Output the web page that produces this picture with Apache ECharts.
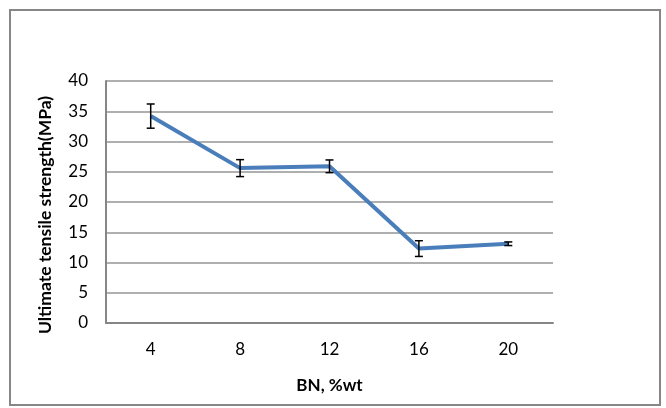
<!DOCTYPE html>
<html><head><meta charset="utf-8">
<script src="https://cdn.jsdelivr.net/npm/echarts@6/dist/echarts.min.js"></script>
<style>html,body{margin:0;padding:0;background:#fff}#c{width:666px;height:408px}</style>
</head><body><div id="c"></div>
<script>
const categories = ['4', '8', '12', '16', '20'];
const strength = [34.2, 25.6, 25.9, 12.3, 13.1];
const errors = [2.0, 1.4, 1.05, 1.3, 0.3];
const yTicks = [0, 5, 10, 15, 20, 25, 30, 35, 40];

const chart = echarts.init(document.getElementById('c'));
const font = 'Lato, "Open Sans", sans-serif';
chart.setOption({
  animation: false,
  backgroundColor: '#fff',
  grid: { left: 106, right: 113, top: 81, bottom: 85, containLabel: false },
  xAxis: {
    type: 'category', data: categories, boundaryGap: true,
    axisLine: { lineStyle: { color: '#868686', width: 2 } },
    axisTick: { show: false },
    axisLabel: { color: '#000', fontSize: 17, fontFamily: font, margin: 18 },
    name: 'BN, %wt', nameLocation: 'middle', nameGap: 54,
    nameTextStyle: { color: '#000', fontSize: 17, fontWeight: 'bold', fontFamily: font }
  },
  yAxis: {
    type: 'value', min: yTicks[0], max: yTicks[yTicks.length - 1], interval: 5,
    axisLine: { show: true, lineStyle: { color: '#868686', width: 2 } },
    axisTick: { show: false },
    splitLine: { lineStyle: { color: '#959595', width: 1.5 } },
    axisLabel: { color: '#000', fontSize: 17, fontFamily: font, margin: 18 }
  },
  graphic: [
    { type: 'rect', shape: { x: 10, y: 10, width: 650, height: 395 }, style: { fill: 'none', stroke: '#878787', lineWidth: 2 }, silent: true, z: -10 },
    { type: 'text', x: 45, y: 215, rotation: Math.PI / 2,
      style: { text: 'Ultimate tensile strength(MPa)', fill: '#000', font: 'bold 17.5px ' + font, textAlign: 'center', textVerticalAlign: 'middle' } }
  ],
  series: [
    {
      type: 'line', data: strength, symbol: 'none',
      lineStyle: { color: '#4a7ebb', width: 4 }, z: 2
    },
    {
      type: 'custom', z: 3,
      data: strength.map((v, i) => [i, v - errors[i], v + errors[i]]),
      renderItem: function (params, api) {
        const lo = api.coord([api.value(0), api.value(1)]);
        const hi = api.coord([api.value(0), api.value(2)]);
        const x = lo[0], w = 4;
        const st = { stroke: '#000', lineWidth: 1.5 };
        return { type: 'group', children: [
          { type: 'line', shape: { x1: x, y1: lo[1], x2: x, y2: hi[1] }, style: st },
          { type: 'line', shape: { x1: x - w, y1: lo[1], x2: x + w, y2: lo[1] }, style: st },
          { type: 'line', shape: { x1: x - w, y1: hi[1], x2: x + w, y2: hi[1] }, style: st }
        ] };
      }
    }
  ]
});
</script></body></html>
